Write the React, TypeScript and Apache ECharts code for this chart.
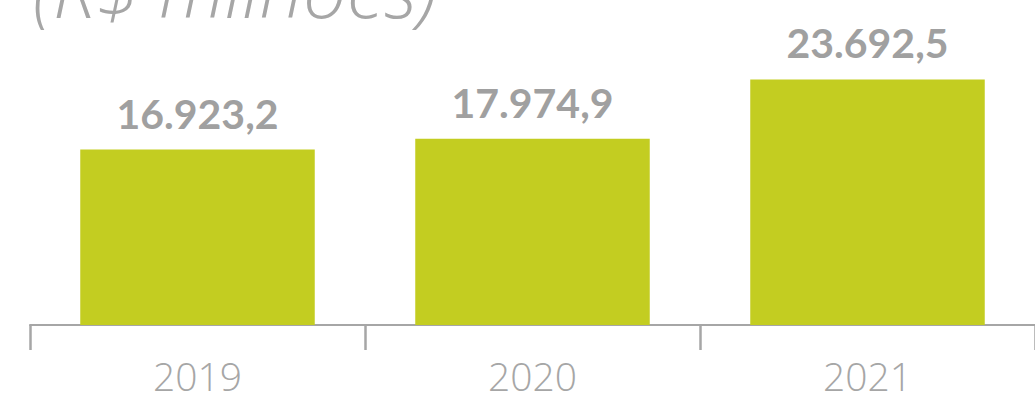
import React, { useEffect, useRef } from "react";
import * as echarts from "echarts";

const categories = ["2019", "2020", "2021"];
const values = [16923.2, 17974.9, 23692.5];
const valueLabels = ["16.923,2", "17.974,9", "23.692,5"];
const titleText = "(R$ milhões)";

export default function App() {
  const ref = useRef<HTMLDivElement>(null);
  useEffect(() => {
    if (!ref.current) return;
    const chart = echarts.init(ref.current, null, { renderer: "svg" });
    chart.setOption({
      animation: false,
      graphic: [
        {
          type: "text",
          left: 33,
          top: -50,
          style: {
            text: titleText,
            fontFamily: "Open Sans",
            fontStyle: "italic",
            fontWeight: 300,
            fontSize: 77,
            fill: "#A6A6A6",
          },
        },
      ],
      grid: { left: 30, top: 14, width: 1010, bottom: 78 },
      xAxis: {
        type: "category",
        data: categories,
        axisLine: { lineStyle: { color: "#A6A6A6", width: 2 } },
        axisTick: {
          show: true,
          alignWithLabel: false,
          length: 25,
          lineStyle: { color: "#A6A6A6", width: 2.5 },
        },
        axisLabel: {
          color: "#A6A6A6",
          fontFamily: "Open Sans",
          fontWeight: 300,
          fontSize: 39,
          lineHeight: 30,
          margin: 35,
        },
      },
      yAxis: {
        type: "value",
        min: 0,
        max: 30000,
        show: false,
        splitLine: { show: false },
      },
      series: [
        {
          type: "bar",
          data: values,
          barWidth: "70%",
          itemStyle: { color: "#C3CD21" },
          label: {
            show: true,
            position: "top",
            distance: 16,
            color: "#A0A0A0",
            fontFamily: "Lato",
            fontWeight: 700,
            fontSize: 41,
            formatter: (p: any) => valueLabels[p.dataIndex],
          },
        },
      ],
    });
    return () => chart.dispose();
  }, []);
  return <div ref={ref} style={{ width: 1035, height: 403, position: "absolute", left: 0, top: 0 }} />;
}
